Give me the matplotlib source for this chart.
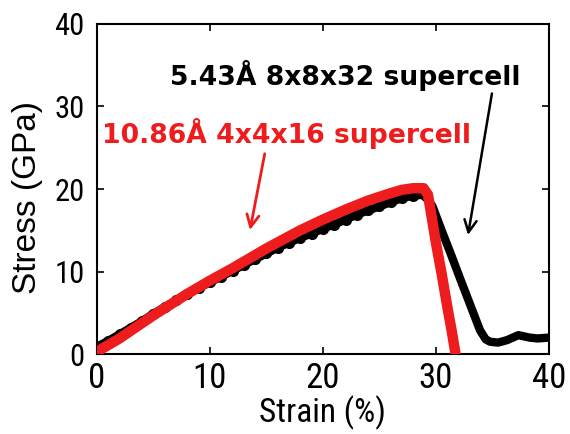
import numpy as np
import matplotlib.pyplot as plt

# Tensile stress-strain curves for two supercell sizes
strain_black = [0, 1, 2, 3, 4, 5, 6, 7, 8, 9, 10, 11, 12, 13, 14, 15, 16, 17, 18, 19,
                20, 21, 22, 23, 24, 25, 26, 27, 28, 28.8, 29.3, 29.7, 30.5, 31.3, 32.1,
                33.0, 33.9, 34.4, 34.8, 35.5, 36.3, 37.3, 38.3, 39.0, 40.0]
stress_black = [0.9, 1.6, 2.4, 3.2, 4.0, 4.9, 5.7, 6.5, 7.3, 8.0, 8.7, 9.4, 10.1, 10.8,
                11.5, 12.2, 12.9, 13.5, 14.1, 14.6, 15.2, 15.7, 16.3, 16.9, 17.4, 17.9,
                18.4, 18.9, 19.2, 19.3, 18.7, 17.9, 15.0, 12.2, 9.3, 6.1, 2.9, 1.8, 1.5,
                1.4, 1.7, 2.3, 2.0, 1.9, 2.0]

strain_red = [0, 2, 5, 8, 10, 12, 15, 18, 20, 22, 24, 26, 27, 28, 28.9, 29.3, 30.0,
              30.5, 31.0, 31.4, 31.8]
stress_red = [0.3, 1.9, 4.7, 7.3, 8.9, 10.4, 12.8, 15.0, 16.3, 17.5, 18.6, 19.5, 19.9,
              20.1, 20.1, 19.3, 13.5, 9.8, 5.8, 2.8, -0.5]

ticks = [0, 10, 20, 30, 40]
label_black = '5.43Å 8x8x32 supercell'
label_red = '10.86Å 4x4x16 supercell'

narrow = ['Roboto Condensed', 'PT Sans Narrow', 'DejaVu Sans']
plt.rcParams['font.family'] = ['Liberation Sans', 'DejaVu Sans']
red = '#ee1c1c'

fig = plt.figure(figsize=(5.7, 4.34), dpi=100)
ax = fig.add_axes([0.170, 0.184, 0.793, 0.761])

n_rise = 29
ax.plot(strain_black, stress_black, color='black', lw=6, solid_capstyle='round', zorder=2)
ax.plot(strain_black[:n_rise], stress_black[:n_rise], 'o', color='black', ms=7, zorder=2)
ax.plot(strain_red, stress_red, color=red, lw=7.5, solid_capstyle='round', zorder=3)

ax.set_xlim(0, 40)
ax.set_ylim(0, 40)
ax.set_xticks(ticks)
ax.set_yticks(ticks)
ax.tick_params(direction='in', length=5, width=1.2, top=True, right=True)
ax.tick_params(axis='x', labelsize=25, pad=6)
ax.tick_params(axis='y', labelsize=22, pad=9)
for lbl in ax.get_xticklabels() + ax.get_yticklabels():
    lbl.set_family(narrow)
for s in ax.spines.values():
    s.set_linewidth(1.5)

ax.set_xlabel('Strain (%)', family=narrow, fontsize=24)
ax.xaxis.set_label_coords(0.5, -0.125)
ax.set_ylabel('Stress (GPa)', fontsize=24)
ax.yaxis.set_label_coords(-0.12, 0.473)

ax.text(6.5, 33.7, label_black, color='black', fontsize=19.2, fontweight='bold',
        family='DejaVu Sans', va='center', ha='left')
ax.text(0.45, 26.7, label_red, color=red, fontsize=19.2, fontweight='bold',
        family='DejaVu Sans', va='center', ha='left')

ax.annotate('', xy=(13.5, 14.7), xytext=(14.9, 24.6),
            arrowprops=dict(arrowstyle='->', color=red, lw=2, mutation_scale=22))
ax.annotate('', xy=(32.8, 14.1), xytext=(35.0, 31.9),
            arrowprops=dict(arrowstyle='->', color='black', lw=1.8, mutation_scale=22))

fig.savefig('out.png', dpi=100)
